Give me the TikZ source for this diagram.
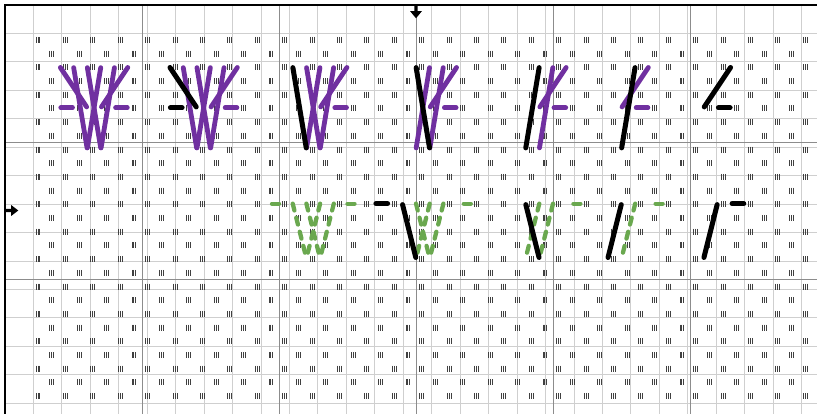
\documentclass[tikz,border=0pt]{standalone}
\usetikzlibrary{arrows.meta}
\definecolor{stitchpurple}{RGB}{112,48,160}
\definecolor{stitchgreen}{RGB}{106,168,79}

\begin{document}
\begin{tikzpicture}[
  x=13.7pt, y=-13.7pt,
  minorline/.style={gray!38, line width=1pt},
  majorline/.style={gray!90, line width=1pt},
  tallyline/.style={black!75, line width=0.6pt},
  tally/.pic={\foreach \d in {-0.14,0,0.14} \draw[tallyline] (\d,-0.22) -- (\d,0.22);},
  purplestitch/.style={stitchpurple, line width=4.8pt, line cap=round, shorten <=1pt, shorten >=1pt},
  blackstitch/.style={black, line width=5pt, line cap=round, shorten <=1pt, shorten >=1pt},
  greenstitch/.style={stitchgreen, line width=4.3pt, line cap=round, dash pattern=on 7pt off 7.5pt},
  marker/.style={fill=black},
]
\useasboundingbox (-0.365,-0.365) rectangle (59.27,29.85);
\clip (-0.365,-0.365) rectangle (59.27,29.85);

% Chart grid
\draw[minorline] (0,0) grid (60,30);
\foreach \x in {10,20,...,50} \draw[majorline] (\x,0) -- (\x,30);
\foreach \y in {10,20} \draw[majorline] (0,\y) -- (60,\y);
\draw[line width=1.5pt] (0,0) rectangle (60,30);

% Background symbols
\foreach \r in {2,...,28}{
  \pgfmathtruncatemacro{\cs}{2+mod(\r,2)}
  \pgfmathtruncatemacro{\cn}{\cs+2}
  \foreach \c in {\cs,\cn,...,58}
    \pic at (\c+0.4,\r+0.55) {tally};
}

% Centre markers
\fill[marker] (29.88,0) -- (30.12,0) -- (30.12,0.45) -- (30.43,0.45)
  -- (30,0.97) -- (29.57,0.45) -- (29.88,0.45) -- cycle;
\fill[marker] (0,14.88) -- (0.45,14.88) -- (0.45,14.6) -- (0.97,15)
  -- (0.45,15.4) -- (0.45,15.12) -- (0,15.12) -- cycle;

% Top row, stitches still to work
\foreach \xa/\ya/\xb/\yb in {
  4/4.5/6/7.5, 4/7.5/5/7.5, 5/4.5/6/10.5, 6/4.5/7/10.5, 7/4.5/6/10.5,
  8/4.5/7/10.5, 9/4.5/7/7.5, 8/7.5/9/7.5,
  13/4.5/14/10.5, 14/4.5/15/10.5, 15/4.5/14/10.5, 16/4.5/15/10.5,
  17/4.5/15/7.5, 16/7.5/17/7.5,
  22/4.5/23/10.5, 23/4.5/22/10.5, 24/4.5/23/10.5, 25/4.5/23/7.5, 24/7.5/25/7.5,
  31/4.5/30/10.5, 32/4.5/31/10.5, 33/4.5/31/7.5, 32/7.5/33/7.5,
  40/4.5/39/10.5, 41/4.5/39/7.5, 40/7.5/41/7.5,
  47/4.5/45/7.5, 46/7.5/47/7.5}
  \draw[purplestitch] (\xa,\ya) -- (\xb,\yb);

% Top row, current stitches
\foreach \xa/\ya/\xb/\yb in {
  12/4.5/14/7.5, 12/7.5/13/7.5, 21/4.5/22/10.5, 30/4.5/31/10.5,
  39/4.5/38/10.5, 46/4.5/45/10.5, 53/4.5/51/7.5, 52/7.5/53/7.5}
  \draw[blackstitch] (\xa,\ya) -- (\xb,\yb);

% Bottom row, stitches on the back
\foreach \xa/\ya/\xb/\yb in {
  20/14.5/19/14.5, 21/14.5/22/18.5, 22/14.5/23/18.5, 23/14.5/22/18.5,
  24/14.5/23/18.5, 25/14.5/26/14.5,
  30/14.5/31/18.5, 31/14.5/30/18.5, 32/14.5/31/18.5, 34/14.5/33/14.5,
  39/14.5/38/18.5, 40/14.5/39/18.5, 42/14.5/41/14.5,
  46/14.5/45/18.5, 48/14.5/47/14.5}
  \draw[greenstitch] (\xa,\ya) -- (\xb,\yb);

% Bottom row, current stitches
\foreach \xa/\ya/\xb/\yb in {
  27/14.5/28/14.5, 29/14.5/30/18.5, 38/14.5/39/18.5,
  45/14.5/44/18.5, 52/14.5/51/18.5, 53/14.5/54/14.5}
  \draw[blackstitch] (\xa,\ya) -- (\xb,\yb);
\end{tikzpicture}
\end{document}
